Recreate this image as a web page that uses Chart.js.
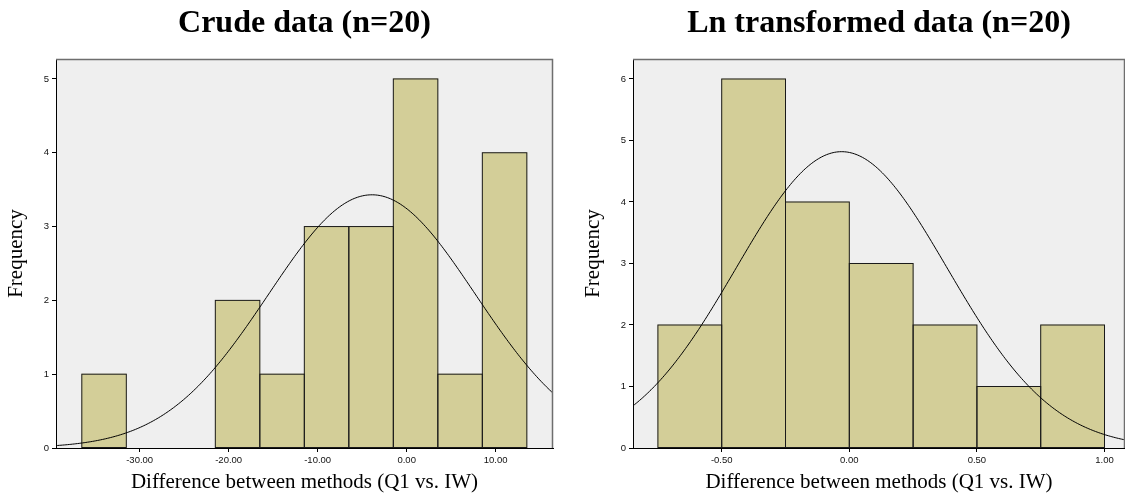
<!DOCTYPE html>
<html>
<head>
<meta charset="utf-8">
<title>Difference between methods (Q1 vs. IW)</title>
<script src="https://cdn.jsdelivr.net/npm/chart.js@4.4.1/dist/chart.umd.min.js"></script>
<style>
  html, body { margin: 0; padding: 0; background: #ffffff; width: 1125px; height: 495px; overflow: hidden; position: relative; }
  canvas { position: absolute; top: 0; }
  #crudeChart { left: 0; }
  #lnChart { left: 577px; }
</style>
</head>
<body>
<canvas id="crudeChart" width="563" height="495"></canvas>
<canvas id="lnChart" width="550" height="495"></canvas>
<script>
// ---- Crude differences (bins 5 units wide) ----
const crudeBinCenters = [-34, -19, -14, -9, -4, 1, 6, 11];
const crudeCounts     = [1, 2, 1, 3, 3, 5, 1, 4];
const crudeTicksX     = [-30, -20, -10, 0, 10];
const crudeTicksY     = [0, 1, 2, 3, 4, 5];
const crudeRangeX     = [-39.4, 16.44];
const crudeMaxY       = 5.27;
const crudeMean       = -3.9;
const crudeSD         = 11.63;
const crudeBinWidth   = 5;

// ---- Ln transformed differences (bins 0.25 wide) ----
const lnBinCenters = [-0.625, -0.375, -0.125, 0.125, 0.375, 0.625, 0.875];
const lnCounts     = [2, 6, 4, 3, 2, 1, 2];
const lnTicksX     = [-0.5, 0, 0.5, 1.0];
const lnTicksY     = [0, 1, 2, 3, 4, 5, 6];
const lnRangeX     = [-0.8476, 1.0803];
const lnMaxY       = 6.325;
const lnMean       = -0.03;
const lnSD         = 0.414;
const lnBinWidth   = 0.25;

const sampleSize = 20;

const serif = "'Liberation Serif', 'Times New Roman', serif";
const sans  = "'Liberation Sans', Arial, sans-serif";

// Fitted normal density scaled to histogram counts (n * bin width * pdf)
function normalCurve(mean, sd, n, binWidth, lo, hi) {
  const pts = [];
  const steps = 300;
  for (let i = 0; i <= steps; i++) {
    const x = lo + (hi - lo) * i / steps;
    const z = (x - mean) / sd;
    pts.push({ x: x, y: n * binWidth * Math.exp(-0.5 * z * z) / (sd * Math.sqrt(2 * Math.PI)) });
  }
  return pts;
}

// Grey plot background and the light frame on the top / right edges
const plotFrame = {
  id: 'plotFrame',
  beforeDraw(chart) {
    const { ctx, chartArea: a } = chart;
    ctx.save();
    ctx.fillStyle = '#efefef';
    ctx.fillRect(a.left, a.top, a.width, a.height);
    ctx.restore();
  },
  afterDraw(chart) {
    const { ctx, chartArea: a } = chart;
    ctx.save();
    ctx.strokeStyle = '#6e6e6e';
    ctx.lineWidth = 1.5;
    ctx.beginPath();
    ctx.moveTo(a.left, a.top + 0.5);
    ctx.lineTo(a.right - 0.5, a.top + 0.5);
    ctx.lineTo(a.right - 0.5, a.bottom);
    ctx.stroke();
    ctx.restore();
  }
};

// Outline each histogram bar once so shared edges stay a single line
const barOutline = {
  id: 'barOutline',
  afterDatasetDraw(chart, args) {
    const meta = args.meta;
    if (meta.type !== 'bar') return;
    const ctx = chart.ctx;
    ctx.save();
    ctx.strokeStyle = '#1a1a1a';
    ctx.lineWidth = 1;
    meta.data.forEach(bar => {
      const p = bar.getProps(['x', 'y', 'base', 'width'], true);
      const left = p.x - p.width / 2;
      const top = Math.min(p.y, p.base);
      const h = Math.abs(p.base - p.y);
      ctx.strokeRect(left, top, p.width, h);
    });
    ctx.restore();
  }
};

function histogramChart(canvasId, cfg) {
  const bars = cfg.centers.map((c, i) => ({ x: c, y: cfg.counts[i] }));
  return new Chart(document.getElementById(canvasId), {
    type: 'bar',
    data: {
      datasets: [
        {
          type: 'line',
          data: normalCurve(cfg.mean, cfg.sd, sampleSize, cfg.binWidth, cfg.rangeX[0], cfg.rangeX[1]),
          borderColor: '#000000',
          borderWidth: 1,
          pointRadius: 0,
          tension: 0,
          fill: false,
          order: 0
        },
        {
          type: 'bar',
          data: bars,
          backgroundColor: '#d3ce98',
          borderWidth: 0,
          barPercentage: 1,
          categoryPercentage: 1,
          order: 1
        }
      ]
    },
    options: {
      responsive: false,
      animation: false,
      events: [],
      layout: { padding: { left: 0, right: cfg.padRight, top: 0, bottom: 0 } },
      plugins: {
        legend: { display: false },
        tooltip: { enabled: false },
        title: {
          display: true,
          text: cfg.title,
          fullSize: false,
          color: '#000000',
          font: { family: serif, size: 32, weight: 'bold', lineHeight: 1.2 },
          padding: { top: 5, bottom: 15.6 }
        }
      },
      scales: {
        x: {
          type: 'linear',
          min: cfg.rangeX[0],
          max: cfg.rangeX[1],
          offset: false,
          afterFit: s => { s.height = 47; },
          afterBuildTicks: s => { s.ticks = cfg.ticksX.map(v => ({ value: v })); },
          ticks: {
            color: '#111111',
            padding: 3,
            maxRotation: 0,
            autoSkip: false,
            font: { family: sans, size: 9.5 },
            callback: v => Math.abs(v) < 1e-9 ? '0.00' : Number(v).toFixed(2)
          },
          grid: { offset: false, drawOnChartArea: false, drawTicks: true, tickLength: 4, color: '#000000', lineWidth: 1 },
          border: { display: true, color: '#000000', width: 1 },
          title: {
            display: true,
            text: 'Difference between methods (Q1 vs. IW)',
            color: '#000000',
            font: { family: serif, size: 21, lineHeight: 1.2 },
            padding: { top: 3, bottom: 0 }
          }
        },
        y: {
          type: 'linear',
          min: 0,
          max: cfg.maxY,
          afterFit: s => { s.width = 56; },
          afterBuildTicks: s => { s.ticks = cfg.ticksY.map(v => ({ value: v })); },
          ticks: {
            color: '#111111',
            padding: 3,
            font: { family: sans, size: 9.5 },
            callback: v => String(v)
          },
          grid: { drawOnChartArea: false, drawTicks: true, tickLength: 4, color: '#000000', lineWidth: 1 },
          border: { display: true, color: '#000000', width: 1 },
          title: {
            display: true,
            text: 'Frequency',
            color: '#000000',
            font: { family: serif, size: 21, lineHeight: 1.2 },
            padding: { top: 3.4, bottom: 0 }
          }
        }
      }
    },
    plugins: [plotFrame, barOutline]
  });
}

histogramChart('crudeChart', {
  title: 'Crude data (n=20)',
  centers: crudeBinCenters,
  counts: crudeCounts,
  ticksX: crudeTicksX,
  ticksY: crudeTicksY,
  rangeX: crudeRangeX,
  maxY: crudeMaxY,
  mean: crudeMean,
  sd: crudeSD,
  binWidth: crudeBinWidth,
  padRight: 10
});

histogramChart('lnChart', {
  title: 'Ln transformed data (n=20)',
  centers: lnBinCenters,
  counts: lnCounts,
  ticksX: lnTicksX,
  ticksY: lnTicksY,
  rangeX: lnRangeX,
  maxY: lnMaxY,
  mean: lnMean,
  sd: lnSD,
  binWidth: lnBinWidth,
  padRight: 2
});
</script>
</body>
</html>
